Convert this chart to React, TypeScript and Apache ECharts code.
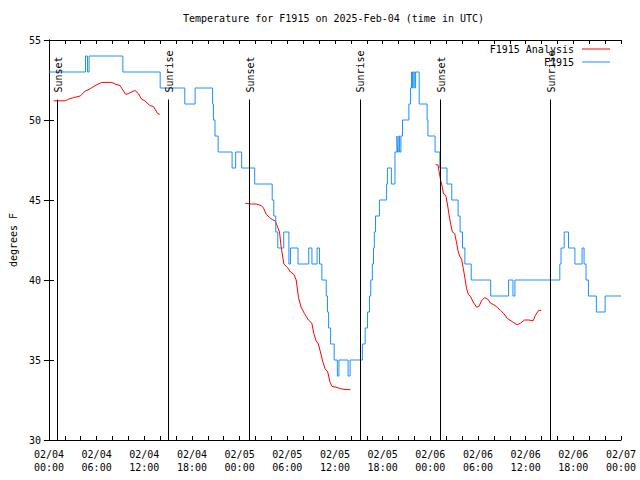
import React, { useEffect, useRef } from "react";
import * as echarts from "echarts";

// hours since 2025-02-04 00:00 UTC
const xTickHours = [0, 6, 12, 18, 24, 30, 36, 42, 48, 54, 60, 66, 72];
const yTicks = [30, 35, 40, 45, 50, 55];

// F1915 observations: [hour, temp] — temp holds from hour until next point
const obsHours = [
  0, 4.6, 4.85, 5.05, 9.3, 14.0, 17.1, 18.4, 20.6, 20.7, 20.9, 21.3, 23.05, 23.5, 24.25, 25.9,
  28.1, 28.3, 28.55, 28.8, 29.55, 30.2, 30.4, 31.35, 32.7, 33.1, 33.75, 34.05, 34.35, 34.9,
  35.05, 35.2, 35.45, 35.9, 36.3, 36.5, 37.65, 37.9, 39.45, 39.8, 40.1, 40.35, 40.5, 40.7,
  40.85, 40.95, 41.1, 41.6, 42.5, 42.6, 43.1, 43.55, 43.8, 43.88, 44.04, 44.13, 44.3, 44.5,
  45.3, 45.5, 45.63, 45.75, 45.85, 46.05, 46.15, 46.6, 47.6, 47.7, 48.6, 49.2, 50.1, 50.7,
  51.5, 51.75, 52.05, 52.35, 53.15, 55.6, 57.85, 58.4, 58.65, 61.1, 64.3, 64.45, 64.85,
  65.4, 66.2, 67.1, 67.35, 67.6, 67.9, 68.9, 70.0, 71.2, 72,
];
const obsTemps = [
  53, 54, 53, 54, 53, 52, 51, 52, 51, 50, 49, 48, 47, 48, 47, 46,
  45, 44, 43, 42, 43, 41, 42, 41, 42, 41, 42, 41, 40, 39,
  38, 37, 36, 35, 34, 35, 34, 35, 36, 37, 38, 39, 40, 41,
  42, 43, 44, 45, 46, 47, 46, 48, 49, 48, 49, 48, 49, 50,
  51, 52, 53, 52, 53, 52, 53, 51, 50, 49, 48, 47, 46, 45,
  44, 43, 42, 41, 40, 39, 40, 39, 40, 40, 41, 42,
  43, 42, 41, 42, 41, 40, 39, 38, 39, 39,
];

// F1915 Analysis (three runs)
const anaHours1 = [0.59, 2.05, 2.47, 3.1, 3.93, 4.55, 5.18, 5.81, 6.65, 7.9, 8.32, 8.95, 9.66, 10.0, 10.83, 11.25, 11.67, 12.08, 12.71, 13.14, 13.68, 13.96];
const anaTemps1 = [51.2, 51.2, 51.3, 51.4, 51.5, 51.8, 51.95, 52.15, 52.35, 52.35, 52.25, 52.15, 51.6, 51.65, 51.85, 51.65, 51.3, 51.2, 50.9, 50.85, 50.4, 50.35];
const anaHours2 = [24.72, 25.47, 26.1, 26.72, 27.01, 27.35, 27.77, 28.19, 28.48, 29.02, 29.23, 29.57, 29.99, 30.4, 30.83, 31.12, 31.41, 31.74, 32.16, 32.66, 33.09, 33.34, 33.63, 33.91, 34.17, 34.47, 34.76, 35.09, 35.38, 35.63, 36.14, 36.76, 37.39, 37.93];
const anaTemps2 = [44.8, 44.75, 44.75, 44.65, 44.5, 44.1, 43.9, 43.75, 43.7, 43.0, 42.05, 41.0, 40.8, 40.5, 40.35, 40.0, 38.9, 38.3, 37.9, 37.5, 37.3, 36.65, 36.2, 36.0, 35.5, 34.9, 34.45, 34.25, 33.6, 33.35, 33.3, 33.2, 33.15, 33.15];
const anaHours3 = [48.68, 48.97, 49.1, 49.31, 49.52, 49.65, 49.94, 50.15, 50.35, 50.56, 50.78, 51.07, 51.28, 51.48, 51.69, 51.94, 52.16, 52.36, 52.57, 52.79, 53.07, 53.49, 53.83, 54.12, 54.45, 54.83, 55.24, 55.58, 56.0, 56.42, 56.84, 57.25, 57.68, 58.3, 58.93, 59.35, 59.85, 60.39, 60.94, 61.23, 61.64, 61.95];
const anaTemps3 = [47.2, 47.2, 46.8, 46.2, 45.8, 45.4, 45.3, 44.75, 44.1, 43.5, 43.0, 42.9, 42.4, 41.85, 41.5, 41.3, 40.7, 40.1, 39.45, 39.1, 38.95, 38.55, 38.3, 38.35, 38.7, 38.9, 38.8, 38.55, 38.45, 38.3, 38.1, 37.9, 37.6, 37.4, 37.2, 37.3, 37.5, 37.5, 37.45, 37.8, 38.1, 38.1];

const sunLabels = ["Sunset", "Sunrise", "Sunset", "Sunrise", "Sunset", "Sunrise"];
const sunHours = [1.1, 15.05, 25.2, 39.15, 49.3, 63.15];
const sunLineTop = 51.28;

const FONT = "'DejaVu Sans Mono', 'Liberation Mono', monospace";

function fmtHour(h: number): string {
  const day = 4 + Math.floor(h / 24 + 1e-9);
  const hh = Math.round(h - (day - 4) * 24);
  return `02/${String(day).padStart(2, "0")}\n${String(hh).padStart(2, "0")}:00`;
}

export default function App() {
  const ref = useRef<HTMLDivElement>(null);
  useEffect(() => {
    if (!ref.current) return;
    const chart = echarts.init(ref.current, null, { renderer: "svg" });
    const obs = obsHours.map((h, i) => [h, obsTemps[i]]);
    const ana: any[] = [];
    anaHours1.forEach((h, i) => ana.push([h, anaTemps1[i]]));
    ana.push([19, "-"]);
    anaHours2.forEach((h, i) => ana.push([h, anaTemps2[i]]));
    ana.push([43, "-"]);
    anaHours3.forEach((h, i) => ana.push([h, anaTemps3[i]]));

    const axisLine = { show: true, lineStyle: { color: "#000", width: 1 } };
    const xCommon = {
      type: "value" as const,
      min: xTickHours[0],
      max: xTickHours[xTickHours.length - 1],
      interval: 6,
      axisLine,
      axisTick: { show: true, inside: true, length: 4, lineStyle: { color: "#000" } },
      minorTick: { show: true, splitNumber: 3, length: 4, lineStyle: { color: "#000" } },
      splitLine: { show: false },
    };
    const yCommon = {
      type: "value" as const,
      min: yTicks[0],
      max: yTicks[yTicks.length - 1],
      interval: 5,
      axisLine,
      axisTick: { show: true, inside: true, length: 5, lineStyle: { color: "#000" } },
      splitLine: { show: false },
    };

    chart.setOption({
      animation: false,
      backgroundColor: "#fff",
      textStyle: { fontFamily: FONT, fontSize: 10, color: "#000" },
      title: {
        text: "Temperature for F1915 on 2025-Feb-04 (time in UTC)",
        left: 183,
        top: 13,
        padding: 0,
        textStyle: { fontFamily: FONT, fontSize: 10, fontWeight: "normal", color: "#000" },
      },
      legend: {
        data: ["F1915 Analysis", "F1915"],
        orient: "vertical",
        right: 30,
        top: 43,
        align: "right",
        icon: "rect",
        itemWidth: 28,
        itemHeight: 1,
        itemGap: 1,
        padding: 0,
        textStyle: { fontFamily: FONT, fontSize: 10, color: "#000", padding: [0, 3, 0, 0], lineHeight: 12 },
      },
      grid: { left: 47, right: 19, top: 40, bottom: 40 },
      xAxis: [
        {
          ...xCommon,
          position: "bottom",
          axisLabel: {
            formatter: (v: number) => fmtHour(v),
            margin: 8,
            lineHeight: 13,
            fontFamily: FONT,
            fontSize: 10,
            color: "#000",
            showMinLabel: true,
            showMaxLabel: true,
          },
        },
        { ...xCommon, position: "top", axisLabel: { show: false } },
      ],
      yAxis: [
        {
          ...yCommon,
          position: "left",
          name: "degrees F",
          nameLocation: "middle",
          nameGap: 30,
          nameRotate: 90,
          nameTextStyle: { fontFamily: FONT, fontSize: 10, color: "#000" },
          axisLabel: { margin: 8, fontFamily: FONT, fontSize: 10, color: "#000" },
        },
        { ...yCommon, position: "right", axisLabel: { show: false } },
      ],
      series: [
        {
          name: "F1915 Analysis",
          type: "line",
          data: ana,
          showSymbol: false,
          symbol: "none",
          connectNulls: false,
          color: "#ff0000",
          lineStyle: { color: "#ff0000", width: 1 },
          z: 3,
        },
        {
          name: "F1915",
          type: "line",
          data: obs,
          step: "end",
          showSymbol: false,
          symbol: "none",
          color: "#1e8fff",
          lineStyle: { color: "#1e8fff", width: 1 },
          z: 4,
          markLine: {
            silent: true,
            symbol: "none",
            label: { show: false },
            lineStyle: { color: "#000", width: 1, type: "solid" },
            data: sunHours.map((h) => [
              { coord: [h, yTicks[0]] },
              { coord: [h, sunLineTop] },
            ]),
          },
        },
      ],
    });

    const graphics = sunHours.map((h, i) => {
      const p = chart.convertToPixel({ xAxisIndex: 0, yAxisIndex: 0 }, [h, sunLineTop]) as number[];
      return {
        type: "text",
        x: p[0] + 1,
        y: p[1] - 7,
        rotation: Math.PI / 2,
        z: 10,
        style: {
          text: sunLabels[i],
          font: `10px ${FONT}`,
          fill: "#000",
          align: "left",
          verticalAlign: "middle",
        },
      };
    });
    chart.setOption({ graphic: graphics });

    return () => chart.dispose();
  }, []);
  return <div ref={ref} style={{ width: 640, height: 480, position: "absolute", left: 0, top: 0 }} />;
}
